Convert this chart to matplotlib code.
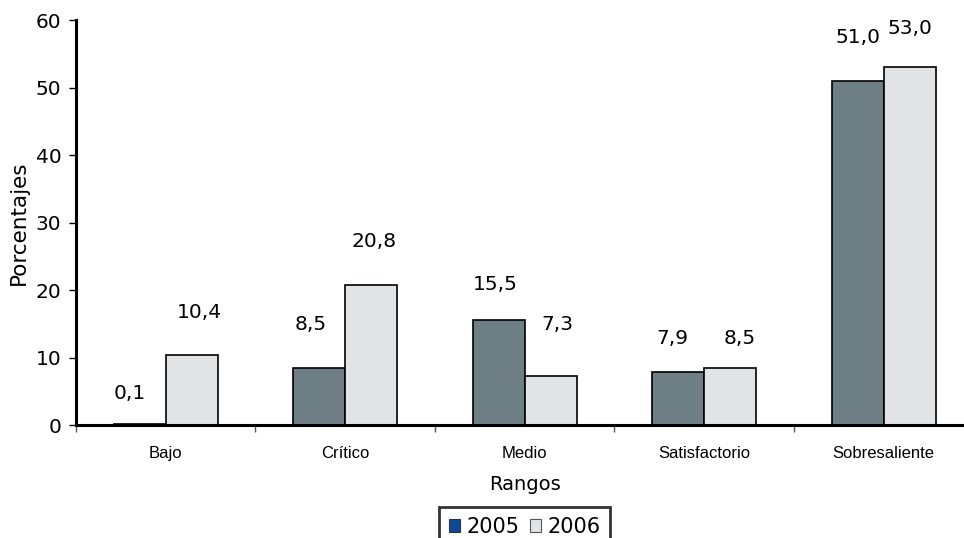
import numpy as np
import matplotlib.pyplot as plt
from matplotlib.patches import Patch

# Data
categories = ['Bajo', 'Crítico', 'Medio', 'Satisfactorio', 'Sobresaliente']
values_2005 = [0.1, 8.5, 15.5, 7.9, 51.0]
values_2006 = [10.4, 20.8, 7.3, 8.5, 53.0]
series_labels = ['2005', '2006']

# label placement tweaks (pixels), 2005 then 2006 for each category
label_dx = [[-10, 8], [-8, 3], [-3, 7], [-6, 9], [0, 0]]
label_dy = [[31, 42], [43, 43], [36, 51], [33, 29], [43, 39]]

color_2005 = '#6e7f86'
color_2006 = '#e0e4e7'
legend_2005 = '#0a4a9a'

fig = plt.figure(figsize=(9.64, 5.38), dpi=100)
ax = fig.add_axes([0.0788, 0.2100, 0.931, 0.7528])

x = np.arange(len(categories)) + 0.5
width = 0.29

bars05 = ax.bar(x - width / 2, values_2005, width, color=color_2005,
                edgecolor='black', linewidth=1.2)
bars06 = ax.bar(x + width / 2, values_2006, width, color=color_2006,
                edgecolor='black', linewidth=1.2)

for i in range(len(categories)):
    for j, (bars, vals) in enumerate([(bars05, values_2005), (bars06, values_2006)]):
        b = bars[i]
        ax.annotate(f"{vals[i]:.1f}".replace('.', ','),
                    (b.get_x() + b.get_width() / 2, vals[i]),
                    xytext=(label_dx[i][j], label_dy[i][j]),
                    textcoords='offset pixels', ha='center', va='center',
                    fontsize=14.5, color='black')

ax.set_xlim(0, len(categories))
ax.set_ylim(0, 60)
ax.set_yticks(np.arange(0, 61, 10))
ax.tick_params(axis='y', labelsize=14.5, length=5, width=1, direction='out', pad=5.5)

# boundaries as major ticks, category names on minor ticks
ax.set_xticks(np.arange(0, len(categories) + 1))
ax.set_xticklabels([])
ax.tick_params(axis='x', which='major', length=5, width=1, color='#555555')
ax.set_xticks(x, minor=True)
ax.set_xticklabels(categories, minor=True, fontsize=12, family='Liberation Sans')
ax.tick_params(axis='x', which='minor', length=0, pad=15)

for s in ['top', 'right']:
    ax.spines[s].set_visible(False)
ax.spines['left'].set_linewidth(2.2)
ax.spines['bottom'].set_linewidth(2.2)

ax.set_ylabel('Porcentajes', fontsize=15.5, labelpad=5)
ax.set_xlabel('Rangos', fontsize=14, labelpad=10)

handles = [Patch(facecolor=legend_2005, edgecolor='#333333', linewidth=0.8),
           Patch(facecolor=color_2006, edgecolor='#555555', linewidth=0.8)]
leg = ax.legend(handles, series_labels, loc='upper center',
                bbox_to_anchor=(0.5, -0.203), ncol=2, fontsize=15,
                frameon=True, fancybox=False, edgecolor='black',
                handlelength=0.55, handleheight=0.55, handletextpad=0.3,
                columnspacing=0.5, borderpad=0.45, borderaxespad=0)
leg.get_frame().set_linewidth(2)

fig.savefig('out.png', dpi=100)
